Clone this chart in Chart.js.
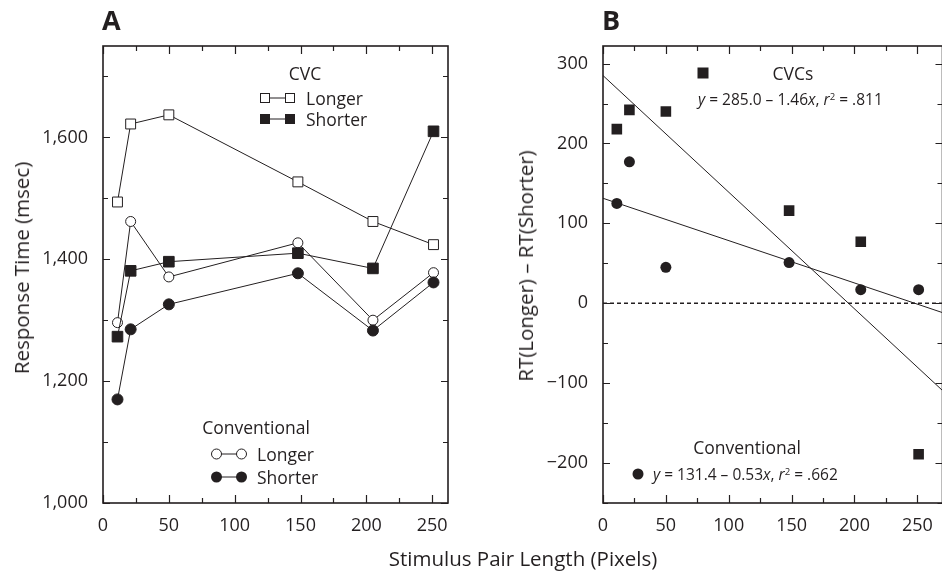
<!DOCTYPE html>
<html lang="en">
<head>
    <meta charset="UTF-8" />
    <title>Response time by stimulus pair length</title>
    <script src="https://cdn.jsdelivr.net/npm/chart.js@4.4.1/dist/chart.umd.min.js"></script>
    <style>
        html, body { margin: 0; padding: 0; background: #fff; overflow: hidden; }
        body { width: 942px; height: 572px; position: relative; font-family: 'Open Sans', sans-serif; color: #231f20; }
        canvas { position: absolute; top: 0; }
        #chartA { left: 0; }
        #chartB { left: 480px; }
        .txt { position: absolute; white-space: nowrap; line-height: 20px; }
        .mid { transform: translate(-50%, -50%); }
        .rot { transform: translate(-50%, -50%) rotate(-90deg); }
        .panel { font-weight: 700; font-size: 27px; line-height: 30px; }
        .title { font-size: 20.5px; }
        .leg { font-size: 17.5px; }
        .eq { font-size: 15.5px; }
        .eq sup { font-size: 0.62em; vertical-align: 0.55em; line-height: 0; }
        svg { position: absolute; overflow: visible; }
    </style>
</head>
<body>
    <canvas id="chartA" width="470" height="572"></canvas>
    <canvas id="chartB" width="470" height="572"></canvas>

    <div class="txt panel" style="left:102px; top:5px;">A</div>
    <div class="txt panel" style="left:602px; top:5px;">B</div>

    <div class="txt title rot" style="left:21px; top:268px;">Response Time (msec)</div>
    <div class="txt title rot" style="left:525px; top:266px;">RT(Longer) – RT(Shorter)</div>
    <div class="txt title mid" style="left:523px; top:558px;">Stimulus Pair Length (Pixels)</div>

    <!-- legenda A: CVC -->
    <div class="txt leg mid" style="left:305px; top:73px;">CVC</div>
    <svg style="left:258px; top:90px;" width="40" height="16">
        <line x1="7" y1="8" x2="32" y2="8" stroke="#231f20" stroke-width="1" />
        <rect x="2.5" y="3.5" width="9" height="9" fill="#fff" stroke="#231f20" stroke-width="1" />
        <rect x="27.5" y="3.5" width="9" height="9" fill="#fff" stroke="#231f20" stroke-width="1" />
    </svg>
    <div class="txt leg" style="left:306px; top:88px;">Longer</div>
    <svg style="left:258px; top:111px;" width="40" height="16">
        <line x1="7" y1="8" x2="32" y2="8" stroke="#231f20" stroke-width="1" />
        <rect x="2" y="3" width="10" height="10" fill="#231f20" />
        <rect x="27" y="3" width="10" height="10" fill="#231f20" />
    </svg>
    <div class="txt leg" style="left:306px; top:109px;">Shorter</div>

    <!-- legenda A: Conventional -->
    <div class="txt leg mid" style="left:256px; top:427px;">Conventional</div>
    <svg style="left:210px; top:446px;" width="40" height="16">
        <line x1="6" y1="8" x2="32" y2="8" stroke="#231f20" stroke-width="1" />
        <circle cx="6.5" cy="8" r="5" fill="#fff" stroke="#231f20" stroke-width="1" />
        <circle cx="31.5" cy="8" r="5" fill="#fff" stroke="#231f20" stroke-width="1" />
    </svg>
    <div class="txt leg" style="left:257px; top:444px;">Longer</div>
    <svg style="left:210px; top:469px;" width="40" height="16">
        <line x1="6" y1="8" x2="32" y2="8" stroke="#231f20" stroke-width="1" />
        <circle cx="6.5" cy="8" r="5.5" fill="#231f20" />
        <circle cx="31.5" cy="8" r="5.5" fill="#231f20" />
    </svg>
    <div class="txt leg" style="left:257px; top:467px;">Shorter</div>

    <!-- legenda B -->
    <svg style="left:697px; top:67px;" width="12" height="12">
        <rect x="0.5" y="0.5" width="11" height="11" fill="#231f20" />
    </svg>
    <div class="txt leg mid" style="left:793px; top:73px;">CVCs</div>
    <div class="txt eq" style="left:698px; top:89px;"><i>y</i> = 285.0 – 1.46<i>x</i>, <i>r</i><sup>2</sup> = .811</div>

    <div class="txt leg mid" style="left:747px; top:447px;">Conventional</div>
    <svg style="left:632px; top:468px;" width="12" height="12">
        <circle cx="6" cy="6" r="5.5" fill="#231f20" />
    </svg>
    <div class="txt eq" style="left:653px; top:464px;"><i>y</i> = 131.4 – 0.53<i>x</i>, <i>r</i><sup>2</sup> = .662</div>

    <script>
        const ink = '#231f20';

        // duljina para podražaja (pikseli)
        const pairLength = [11, 21, 50, 148, 205, 251];

        // Panel A: vrijeme odgovora (msec)
        const cvcLonger = [1494, 1622, 1637, 1527, 1462, 1424];
        const cvcShorter = [1273, 1381, 1396, 1410, 1385, 1610];
        const convLonger = [1296, 1462, 1371, 1427, 1300, 1378];
        const convShorter = [1170, 1285, 1326, 1377, 1283, 1362];

        // Panel B: RT(Longer) - RT(Shorter)
        const cvcDiff = [218, 242, 240, 116, 77, -189];
        const convDiff = [125, 177, 45, 51, 17, 17];

        // regresijski pravci (iz teksta na slici)
        const cvcFit = { a: 285.0, b: -1.46 };
        const convFit = { a: 131.4, b: -0.53 };

        const xMaxA = 262;
        const xMaxB = 270;

        const pts = (xs, ys) => xs.map((x, i) => ({ x: x, y: ys[i] }));
        const fitLine = (f, x0, x1) => [{ x: x0, y: f.a + f.b * x0 }, { x: x1, y: f.a + f.b * x1 }];

        const tickFont = { family: 'Open Sans', size: 18 };

        // okvir i kratke crtice s unutarnje strane na sve četiri strane
        const frameTicks = {
            id: 'frameTicks',
            beforeDatasetsDraw(chart, args, opts) {
                const { ctx, chartArea: a, scales } = chart;
                ctx.save();
                ctx.strokeStyle = ink;
                ctx.lineWidth = 1.2;
                ctx.beginPath();
                scales.x.ticks.forEach(t => {
                    const px = Math.round(scales.x.getPixelForValue(t.value)) + 0.5;
                    const len = t.value % opts.xMajor === 0 ? 8 : 5;
                    ctx.moveTo(px, a.bottom); ctx.lineTo(px, a.bottom - len);
                    ctx.moveTo(px, a.top); ctx.lineTo(px, a.top + len);
                });
                scales.y.ticks.forEach(t => {
                    const py = Math.round(scales.y.getPixelForValue(t.value)) + 0.5;
                    const len = t.value % opts.yMajor === 0 ? 7 : 5;
                    ctx.moveTo(a.left, py); ctx.lineTo(a.left + len, py);
                    ctx.moveTo(a.right, py); ctx.lineTo(a.right - len, py);
                });
                ctx.stroke();
                ctx.lineWidth = 1.6;
                ctx.strokeRect(a.left, a.top, a.right - a.left, a.bottom - a.top);
                ctx.restore();
            }
        };

        function axisX(max, height) {
            return {
                type: 'linear', min: 0, max: max,
                grid: { display: false, drawTicks: false },
                border: { display: false },
                ticks: {
                    stepSize: 25, includeBounds: false, autoSkip: false, maxRotation: 0,
                    padding: 12, color: ink, font: tickFont,
                    callback: v => (v % 50 === 0 ? String(v) : '')
                },
                afterFit: s => { s.height = height; }
            };
        }

        const lineSet = (label, data, style, radius, fill) => ({
            label: label,
            data: data,
            showLine: true,
            borderColor: ink,
            borderWidth: 1,
            pointStyle: style,
            pointRadius: radius,
            pointBackgroundColor: fill,
            pointBorderColor: ink,
            pointBorderWidth: 1
        });

        const chartA = new Chart(document.getElementById('chartA'), {
            type: 'scatter',
            data: {
                datasets: [
                    lineSet('CVC Longer', pts(pairLength, cvcLonger), 'rect', 7, '#fff'),
                    lineSet('CVC Shorter', pts(pairLength, cvcShorter), 'rect', 7.5, ink),
                    lineSet('Conventional Shorter', pts(pairLength, convShorter), 'circle', 5.5, ink),
                    lineSet('Conventional Longer', pts(pairLength, convLonger), 'circle', 5, '#fff')
                ]
            },
            options: {
                responsive: false,
                animation: false,
                layout: { padding: { left: 0, top: 46, right: 22, bottom: 0 } },
                plugins: { legend: { display: false }, tooltip: { enabled: false }, frameTicks: { xMajor: 50, yMajor: 200 } },
                scales: {
                    x: axisX(xMaxA, 69),
                    y: {
                        type: 'linear', min: 1000, max: 1750,
                        grid: { display: false, drawTicks: false },
                        border: { display: false },
                        ticks: {
                            stepSize: 100, includeBounds: false, autoSkip: false,
                            padding: 15, color: ink, font: tickFont,
                            callback: v => (v % 200 === 0 ? v.toLocaleString('en-US') : '')
                        },
                        afterFit: s => { s.width = 103; }
                    }
                }
            },
            plugins: [frameTicks]
        });

        const chartB = new Chart(document.getElementById('chartB'), {
            type: 'scatter',
            data: {
                datasets: [
                    {
                        label: 'nula',
                        data: [{ x: 0, y: 0 }, { x: xMaxB, y: 0 }],
                        showLine: true, borderColor: ink, borderWidth: 1.4, borderDash: [4, 3], pointRadius: 0
                    },
                    {
                        label: 'CVC fit',
                        data: fitLine(cvcFit, 0, xMaxB),
                        showLine: true, borderColor: ink, borderWidth: 1, pointRadius: 0
                    },
                    {
                        label: 'Conventional fit',
                        data: fitLine(convFit, 0, xMaxB),
                        showLine: true, borderColor: ink, borderWidth: 1, pointRadius: 0
                    },
                    {
                        label: 'CVCs',
                        data: pts(pairLength, cvcDiff),
                        pointStyle: 'rect', pointRadius: 7.5, pointBackgroundColor: ink, pointBorderColor: ink, pointBorderWidth: 0
                    },
                    {
                        label: 'Conventional',
                        data: pts(pairLength, convDiff),
                        pointStyle: 'circle', pointRadius: 5.5, pointBackgroundColor: ink, pointBorderColor: ink, pointBorderWidth: 0
                    }
                ]
            },
            options: {
                responsive: false,
                animation: false,
                layout: { padding: { left: 0, top: 46, right: 7, bottom: 0 } },
                plugins: { legend: { display: false }, tooltip: { enabled: false }, frameTicks: { xMajor: 50, yMajor: 100 } },
                scales: {
                    x: axisX(xMaxB, 69),
                    y: {
                        type: 'linear', min: -250, max: 322,
                        grid: { display: false, drawTicks: false },
                        border: { display: false },
                        ticks: {
                            stepSize: 50, includeBounds: false, autoSkip: false,
                            padding: 15, color: ink, font: tickFont,
                            callback: v => (v % 100 === 0 ? (v < 0 ? '\u2212' + Math.abs(v) : String(v)) : '')
                        },
                        afterFit: s => { s.width = 123; }
                    }
                }
            },
            plugins: [frameTicks]
        });
    </script>
</body>
</html>
